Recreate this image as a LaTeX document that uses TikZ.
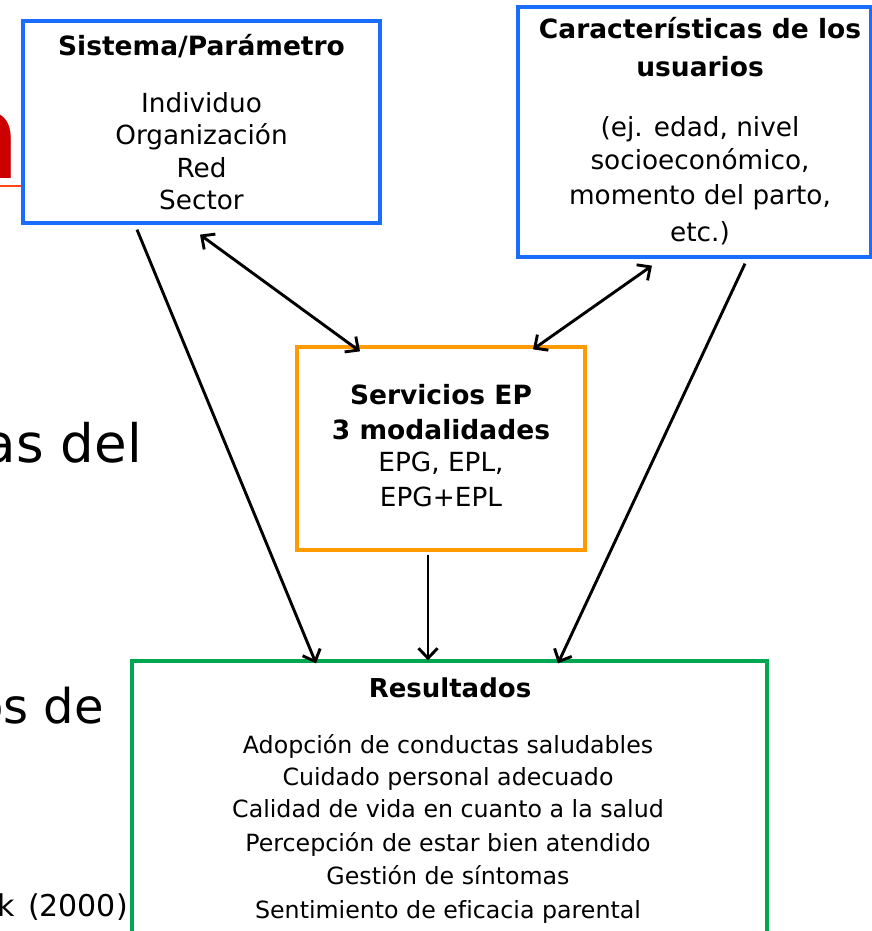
\documentclass[tikz,border=0pt]{standalone}
\usepackage{fontspec}
\setmainfont{DejaVu Sans}[Ligatures=NoCommon]
\usetikzlibrary{arrows.meta}
\definecolor{boxblue}{RGB}{25,110,255}
\definecolor{boxorange}{RGB}{255,155,0}
\definecolor{boxgreen}{RGB}{0,166,80}
\definecolor{titlered}{RGB}{204,0,0}
\definecolor{rulered}{RGB}{255,70,20}
\tikzset{
  box/.style={draw, line width=3.3pt, fill=white, inner sep=0pt},
  txt/.style={inner sep=0pt, anchor=base, font=\fontsize{26.3}{30}\selectfont},
  ttl/.style={inner sep=0pt, anchor=base, font=\fontsize{26.5}{30}\selectfont\bfseries},
  res/.style={inner sep=0pt, anchor=base, font=\fontsize{23.7}{28}\selectfont},
  bg/.style={inner sep=0pt, anchor=base east, font=\fontsize{53}{56}\selectfont},
  barb/.tip={Straight Barb[length=10pt,width=19pt,line width=2.9pt]},
  conn/.style={line width=2.9pt, -barb},
  dconn/.style={line width=2.9pt, barb-barb},
}
\begin{document}
\begin{tikzpicture}[x=1pt,y=-1pt]
\useasboundingbox (0,0) rectangle (872,931);
\clip (0,0) rectangle (872,931);
% background slide fragments
\node[inner sep=0pt, anchor=base east, font=\fontsize{118}{120}\selectfont\bfseries, text=titlered] (bgn) at (21,178) {n};
\draw[rulered, line width=1.5pt] (0,186) -- (30,186);
\node[bg] (bgas) at (142,462) {as del};
\node[bg, font=\fontsize{48}{52}\selectfont] (bgos) at (104,723) {os de};
\node[inner sep=0pt, anchor=base east, font=\fontsize{30}{33}\selectfont] (bgk) at (128,916) {k\hspace{4pt} (2000)};
% boxes
\node[box, draw=boxblue, minimum width=357pt, minimum height=202pt] (sis) at (201.5,122) {};
\node[box, draw=boxblue, minimum width=353pt, minimum height=250pt] (car) at (694.5,132) {};
\node[box, draw=boxorange, minimum width=288pt, minimum height=203pt] (ser) at (441,448.5) {};
\node[box, draw=boxgreen, minimum width=635pt, minimum height=300pt] (resb) at (449.5,811) {};
% box 1 text
\node[ttl] (s1) at (201.5,56) {Sistema/Parámetro};
\node[txt] (s2) at (201.5,113) {Individuo};
\node[txt] (s3) at (201.5,145) {Organización};
\node[txt] (s4) at (201.5,177) {Red};
\node[txt] (s5) at (201.5,209) {Sector};
% box 2 text
\node[ttl] (c1) at (700,39) {Características de los};
\node[ttl] (c2) at (700,77) {usuarios};
\node[txt] (c3) at (700,136) {(ej. edad, nivel};
\node[txt] (c4) at (700,169) {socioeconómico,};
\node[txt] (c5) at (700,204) {momento del parto,};
\node[txt] (c6) at (700,241) {etc.)};
% box 3 text
\node[ttl] (e1) at (441,404) {Servicios EP};
\node[ttl] (e2) at (441,439) {3 modalidades};
\node[txt] (e3) at (441,471) {EPG, EPL,};
\node[txt] (e4) at (441,506) {EPG+EPL};
% box 4 text
\node[ttl, font=\fontsize{26}{28}\selectfont\bfseries] (r0) at (450,697) {Resultados};
\node[res] (r1) at (448,753) {Adopción de conductas saludables};
\node[res] (r2) at (448,785) {Cuidado personal adecuado};
\node[res] (r3) at (448,817) {Calidad de vida en cuanto a la salud};
\node[res] (r4) at (448,851) {Percepción de estar bien atendido};
\node[res] (r5) at (448,884) {Gestión de síntomas};
\node[res] (r6) at (448,918) {Sentimiento de eficacia parental};
% connector ends
\coordinate (a1) at ([xshift=-64.5pt,yshift=-5pt]sis.south);
\coordinate (a2) at ([xshift=-133.5pt,yshift=-4pt]resb.north);
\coordinate (b1) at ([xshift=-1.5pt,yshift=-10pt]sis.south);
\coordinate (b2) at ([xshift=-81pt,yshift=-6pt]ser.north);
\coordinate (c1e) at ([xshift=-42.5pt,yshift=-7pt]car.south);
\coordinate (c2e) at ([xshift=92pt,yshift=-4pt]ser.north);
\coordinate (d1) at ([xshift=50.5pt,yshift=-5pt]car.south);
\coordinate (d2) at ([xshift=108.5pt,yshift=-4pt]resb.north);
\coordinate (e1s) at ([xshift=-13pt,yshift=-3pt]ser.south);
\coordinate (e2s) at ([xshift=-21.5pt,yshift=-1pt]resb.north);
% connectors
\draw[conn] (a1) -- (a2);
\draw[dconn] (b1) -- (b2);
\draw[dconn] (c1e) -- (c2e);
\draw[conn] (d1) -- (d2);
\draw[conn] (e1s) -- (e2s);
\end{tikzpicture}
\end{document}
